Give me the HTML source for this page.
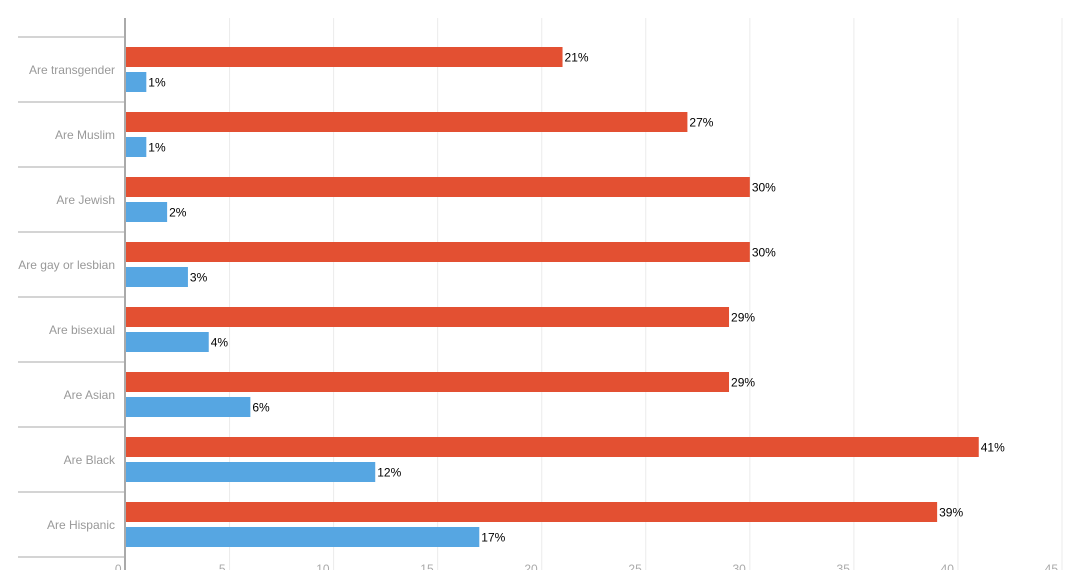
<!DOCTYPE html>
<html><head><meta charset="utf-8"><style>
body{margin:0;background:#fff;font-family:"Liberation Sans",Arial,sans-serif}
svg text{font-family:"Liberation Sans",Arial,sans-serif}
</style></head><body>
<svg id="chart" width="1087" height="570" xmlns="http://www.w3.org/2000/svg"></svg>
<script>
const categories=["Are transgender","Are Muslim","Are Jewish","Are gay or lesbian","Are bisexual","Are Asian","Are Black","Are Hispanic"];
const seriesA=[21,27,30,30,29,29,41,39];
const seriesB=[1,1,2,3,4,6,12,17];
const ticks=[0,5,10,15,20,25,30,35,40,45];
const NS="http://www.w3.org/2000/svg";
const svg=document.getElementById('chart');
const x0=125.5,x1=1062,top0=37,rowH=65;
function xs(v){return x0+v*(x1-x0)/45;}
function mk(t,a,p){const e=document.createElementNS(NS,t);for(const k in a)e.setAttribute(k,a[k]);(p||svg).appendChild(e);return e;}
ticks.forEach(t=>{
  if(t>0){const l=mk('line',{x1:xs(t),x2:xs(t),y1:18,y2:570,stroke:'#ebebeb','stroke-width':1});
  
  }
  const tx=mk('text',{x:xs(t)-4,y:573,'text-anchor':'end','font-size':12,fill:'#aaa'});
  tx.textContent=t;
  
  
});
for(let i=0;i<=categories.length;i++){
  const y=top0+i*rowH;
  const l=mk('line',{x1:18,x2:125,y1:y,y2:y,stroke:'#aaa','stroke-width':1});
  
  
}
categories.forEach((c,i)=>{
  const y=top0+i*rowH;
  const lb=mk('text',{x:115,y:y+37,'text-anchor':'end','font-size':12,fill:'#999'});
  lb.textContent=c;
  
  
  const a=mk('rect',{x:xs(0),y:y+10,width:xs(seriesA[i])-xs(0),height:20,fill:'#e35032'});
  
  
  const at=mk('text',{x:xs(seriesA[i])+2,y:y+24.5,'font-size':12,fill:'#000'});
  at.textContent=seriesA[i]+'%';
  
  
  const b=mk('rect',{x:xs(0),y:y+35,width:xs(seriesB[i])-xs(0),height:20,fill:'#56a6e2'});
  
  
  const bt=mk('text',{x:xs(seriesB[i])+2,y:y+49.5,'font-size':12,fill:'#000'});
  bt.textContent=seriesB[i]+'%';
  
  
});
const ax=mk('line',{x1:125,x2:125,y1:18,y2:570,stroke:'#aaa','stroke-width':2});


</script>
</body></html>
